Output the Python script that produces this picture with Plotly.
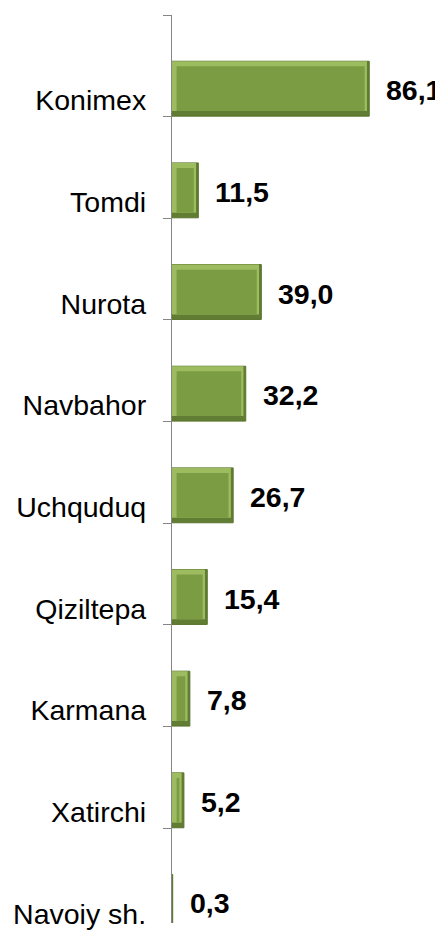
import plotly.graph_objects as go

categories = ["Konimex", "Tomdi", "Nurota", "Navbahor", "Uchquduq",
              "Qiziltepa", "Karmana", "Xatirchi", "Navoiy sh."]
values = [86.1, 11.5, 39.0, 32.2, 26.7, 15.4, 7.8, 5.2, 0.3]
value_labels = ["86,1", "11,5", "39,0", "32,2", "26,7", "15,4", "7,8", "5,2", "0,3"]

n = len(categories)
idx = list(range(n))
bar_pos = [i + 0.725 for i in idx]      # bars sit in lower part of each band
label_pos = [i + 0.84 for i in idx]     # category labels near band bottom
text_pos = [i + 0.74 for i in idx]
boundaries = list(range(n + 1))

FONT = "Liberation Sans, Arial, sans-serif"
BAR_W = 0.54
BEV_X = 2.0      # bevel thickness in value units
BEV_Y = 0.05     # bevel thickness in band units

fig = go.Figure()
# dark outer layer (bottom/right bevel)
fig.add_trace(go.Bar(
    x=values, y=bar_pos, orientation="h", width=BAR_W,
    marker=dict(color="#617C33", line=dict(color="#5A742D", width=1)),
    showlegend=False, hoverinfo="skip",
))
# light layer (top/left bevel)
fig.add_trace(go.Bar(
    x=[max(v - BEV_X * 0.5, 0) for v in values],
    y=[p - BEV_Y / 2 for p in bar_pos], orientation="h", width=BAR_W - BEV_Y,
    marker=dict(color="#9DBC60", line=dict(width=0)),
    showlegend=False, hoverinfo="skip",
))
# main face
fig.add_trace(go.Bar(
    x=[max(v - 2 * BEV_X, 0) for v in values],
    base=[min(BEV_X, v) for v in values],
    y=bar_pos, orientation="h", width=BAR_W - 2 * BEV_Y,
    marker=dict(color="#7C9C43", line=dict(width=0)),
    showlegend=False, hoverinfo="skip",
))

for v, t, y in zip(values, value_labels, text_pos):
    fig.add_annotation(x=v, y=y, text="<b>" + t + "</b>", showarrow=False,
                       xanchor="left", yanchor="middle", xshift=15,
                       font=dict(family=FONT, size=28.5, color="#000000"))

fig.update_layout(
    width=435, height=922,
    margin=dict(l=164, r=0, t=6.5, b=0),
    barmode="overlay",
    plot_bgcolor="white", paper_bgcolor="white",
    xaxis=dict(visible=False, range=[0, 118.3]),
    yaxis=dict(
        range=[8.932, 0],
        tickmode="array", tickvals=label_pos, ticktext=categories,
        ticks="", showgrid=False, zeroline=False,
        showline=True, linecolor="#868686", linewidth=1.3,
        ticklabelstandoff=19, ticklabeloverflow="allow",
        tickfont=dict(family=FONT, size=28.5, color="#000000"),
        minor=dict(tickmode="array", tickvals=boundaries, ticks="outside",
                   ticklen=8, tickcolor="#868686", tickwidth=1.3, showgrid=False),
    ),
)

fig.write_html("out.html")
